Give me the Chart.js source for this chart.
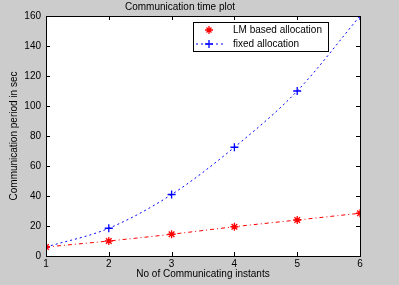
<!DOCTYPE html>
<html>
<head>
<meta charset="utf-8">
<script src="https://cdn.jsdelivr.net/npm/chart.js@4"></script>
<style>
  html, body { margin: 0; padding: 0; background: #cccccc; }
  #wrap { width: 399px; height: 285px; position: relative; }
</style>
</head>
<body>
<div id="wrap"><canvas id="timeChart"></canvas></div>
<script>
const instants = [1, 2, 3, 4, 5, 6];
const lmBased = [6, 10, 14.5, 19.5, 24, 28.5];
const fixedAlloc = [6, 18.5, 41, 72.5, 110, 160];
const yTicks = [0, 20, 40, 60, 80, 100, 120, 140, 160];

const font = { family: "'Liberation Sans', Arial, sans-serif", size: 10, weight: "normal" };

// white axes area + black box with inward ticks (matlab style)
const axesBox = {
  id: "axesBox",
  beforeDraw(chart) {
    const { ctx, chartArea: a } = chart;
    ctx.save();
    ctx.fillStyle = "#ffffff";
    ctx.fillRect(a.left, a.top, a.right - a.left, a.bottom - a.top);
    ctx.restore();
  },
  afterDraw(chart) {
    const { ctx, chartArea: a, scales } = chart;
    ctx.save();
    ctx.strokeStyle = "#000";
    ctx.lineWidth = 1;
    ctx.strokeRect(a.left + 0.5, a.top + 0.5, a.right - a.left, a.bottom - a.top);
    ctx.beginPath();
    scales.x.ticks.forEach((t) => {
      const px = Math.round(scales.x.getPixelForValue(t.value)) + 0.5;
      ctx.moveTo(px, a.bottom); ctx.lineTo(px, a.bottom - 4);
      ctx.moveTo(px, a.top); ctx.lineTo(px, a.top + 4);
    });
    scales.y.ticks.forEach((t) => {
      const py = Math.round(scales.y.getPixelForValue(t.value)) + 0.5;
      ctx.moveTo(a.left, py); ctx.lineTo(a.left + 4, py);
      ctx.moveTo(a.right, py); ctx.lineTo(a.right - 4, py);
    });
    ctx.stroke();

    // legend box
    const lx = 193, ly = 22, lw = 135, lh = 29;
    ctx.fillStyle = "#fff";
    ctx.fillRect(lx, ly, lw, lh);
    ctx.strokeRect(lx + 0.5, ly + 0.5, lw, lh);
    ctx.font = "10px " + font.family;
    ctx.textBaseline = "middle";
    chart.data.datasets.forEach((ds, i) => {
      const y = ly + 8 + i * 14;
      if (ds.showLegendLine) {
        ctx.save();
        ctx.strokeStyle = ds.borderColor;
        ctx.setLineDash(ds.borderDash);
        ctx.beginPath();
        ctx.moveTo(lx + 3, y); ctx.lineTo(lx + 30, y);
        ctx.stroke();
        ctx.restore();
      }
      ctx.save();
      ctx.strokeStyle = ds.pointBorderColor;
      ctx.lineWidth = 1.3;
      ctx.beginPath();
      ctx.moveTo(lx + 12, y); ctx.lineTo(lx + 20, y);
      ctx.moveTo(lx + 16, y - 4); ctx.lineTo(lx + 16, y + 4);
      if (ds.pointStyle === "star") {
        ctx.moveTo(lx + 13.5, y - 2.5); ctx.lineTo(lx + 18.5, y + 2.5);
        ctx.moveTo(lx + 18.5, y - 2.5); ctx.lineTo(lx + 13.5, y + 2.5);
      }
      ctx.stroke();
      ctx.restore();
      ctx.fillStyle = "#000";
      ctx.fillText(ds.label, lx + 40, y);
    });
    ctx.restore();
  },
};

const ctx = document.getElementById("timeChart");
const timeChart = new Chart(ctx, {
  type: "line",
  data: {
    datasets: [
      {
        label: "LM based allocation",
        data: instants.map((x, i) => ({ x: x, y: lmBased[i] })),
        borderColor: "#ff0000",
        borderWidth: 1,
        borderDash: [4, 3, 1, 3],
        pointStyle: "star",
        pointRadius: 4,
        pointBorderColor: "#ff0000",
        pointBorderWidth: 1.3,
        cubicInterpolationMode: "monotone",
        showLegendLine: false,
      },
      {
        label: "fixed allocation",
        data: instants.map((x, i) => ({ x: x, y: fixedAlloc[i] })),
        borderColor: "#0000ff",
        borderWidth: 1,
        borderDash: [2, 3],
        pointStyle: "cross",
        pointRadius: 4,
        pointBorderColor: "#0000ff",
        pointBorderWidth: 1.3,
        cubicInterpolationMode: "monotone",
        showLegendLine: true,
      },
    ],
  },
  options: {
    responsive: true,
    maintainAspectRatio: false,
    animation: false,
    layout: { padding: { right: 39, left: 0, top: 0, bottom: 0 } },
    plugins: {
      legend: { display: false },
      tooltip: { enabled: false },
      title: {
        display: true,
        text: "Communication time plot",
        color: "#000",
        font: font,
        padding: { top: 1, bottom: 3 },
      },
    },
    scales: {
      x: {
        type: "linear",
        min: 1,
        max: 6,
        grid: { display: false, drawTicks: false },
        border: { display: false },
        ticks: { stepSize: 1, color: "#000", font: font, padding: 2 },
        title: {
          display: true,
          text: "No of Communicating instants",
          color: "#000",
          font: font,
          padding: { top: 0, bottom: 5 },
        },
        afterFit: (s) => { s.height = 29; },
      },
      y: {
        min: 0,
        max: 160,
        grid: { display: false, drawTicks: false },
        border: { display: false },
        afterBuildTicks: (s) => { s.ticks = yTicks.map((v) => ({ value: v })); },
        ticks: { color: "#000", font: font, padding: 5 },
        title: {
          display: true,
          text: "Communication period in sec",
          color: "#000",
          font: font,
          padding: { top: 8, bottom: 0 },
        },
        afterFit: (s) => { s.width = 46; },
      },
    },
  },
  plugins: [axesBox],
});
</script>
</body>
</html>
